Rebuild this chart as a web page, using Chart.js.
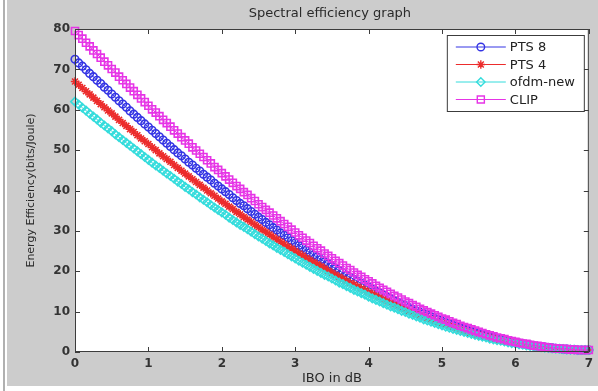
<!DOCTYPE html>
<html>
<head>
<meta charset="utf-8">
<script src="https://cdn.jsdelivr.net/npm/chart.js@4.4.0/dist/chart.umd.min.js"></script>
<style>
  html, body { margin: 0; padding: 0; background: #fff; }
  canvas { display: block; }
</style>
</head>
<body>
<canvas id="myChart" width="598" height="391"></canvas>
<script>
// IBO in dB (x positions of the samples)
const ibo = [
  0, 0.05, 0.1, 0.15, 0.2, 0.25, 0.3, 0.35, 0.4, 0.45,
  0.5, 0.55, 0.6, 0.65, 0.7, 0.75, 0.8, 0.85, 0.9, 0.95,
  1, 1.05, 1.1, 1.15, 1.2, 1.25, 1.3, 1.35, 1.4, 1.45,
  1.5, 1.55, 1.6, 1.65, 1.7, 1.75, 1.8, 1.85, 1.9, 1.95,
  2, 2.05, 2.1, 2.15, 2.2, 2.25, 2.3, 2.35, 2.4, 2.45,
  2.5, 2.55, 2.6, 2.65, 2.7, 2.75, 2.8, 2.85, 2.9, 2.95,
  3, 3.05, 3.1, 3.15, 3.2, 3.25, 3.3, 3.35, 3.4, 3.45,
  3.5, 3.55, 3.6, 3.65, 3.7, 3.75, 3.8, 3.85, 3.9, 3.95,
  4, 4.05, 4.1, 4.15, 4.2, 4.25, 4.3, 4.35, 4.4, 4.45,
  4.5, 4.55, 4.6, 4.65, 4.7, 4.75, 4.8, 4.85, 4.9, 4.95,
  5, 5.05, 5.1, 5.15, 5.2, 5.25, 5.3, 5.35, 5.4, 5.45,
  5.5, 5.55, 5.6, 5.65, 5.7, 5.75, 5.8, 5.85, 5.9, 5.95,
  6, 6.05, 6.1, 6.15, 6.2, 6.25, 6.3, 6.35, 6.4, 6.45,
  6.5, 6.55, 6.6, 6.65, 6.7, 6.75, 6.8, 6.85, 6.9, 6.95,
  7,
];

const pts8 = [
  72.5, 71.6, 70.8, 69.9, 69.0, 68.2, 67.3, 66.5, 65.6, 64.8,
  63.9, 63.1, 62.2, 61.4, 60.6, 59.7, 58.9, 58.1, 57.3, 56.5,
  55.7, 54.9, 54.1, 53.3, 52.5, 51.7, 50.9, 50.1, 49.3, 48.6,
  47.8, 47.0, 46.3, 45.5, 44.8, 44.0, 43.3, 42.6, 41.8, 41.1,
  40.4, 39.7, 39.0, 38.2, 37.5, 36.8, 36.2, 35.5, 34.8, 34.1,
  33.4, 32.8, 32.1, 31.5, 30.8, 30.2, 29.5, 28.9, 28.3, 27.6,
  27.0, 26.4, 25.8, 25.2, 24.6, 24.0, 23.5, 22.9, 22.3, 21.8,
  21.2, 20.7, 20.1, 19.6, 19.0, 18.5, 18.0, 17.5, 17.0, 16.5,
  16.0, 15.5, 15.0, 14.6, 14.1, 13.6, 13.2, 12.7, 12.3, 11.9,
  11.5, 11.0, 10.6, 10.2, 9.8, 9.5, 9.1, 8.7, 8.3, 8.0,
  7.6, 7.3, 7.0, 6.6, 6.3, 6.0, 5.7, 5.4, 5.1, 4.9,
  4.6, 4.3, 4.1, 3.8, 3.6, 3.4, 3.1, 2.9, 2.7, 2.5,
  2.3, 2.2, 2.0, 1.8, 1.7, 1.5, 1.4, 1.3, 1.2, 1.1,
  1.0, 0.9, 0.8, 0.7, 0.7, 0.6, 0.6, 0.5, 0.5, 0.5,
  0.5,
];

const pts4 = [
  67.0, 66.2, 65.4, 64.6, 63.8, 63.0, 62.2, 61.4, 60.6, 59.8,
  59.1, 58.3, 57.5, 56.7, 56.0, 55.2, 54.5, 53.7, 52.9, 52.2,
  51.5, 50.7, 50.0, 49.2, 48.5, 47.8, 47.1, 46.3, 45.6, 44.9,
  44.2, 43.5, 42.8, 42.1, 41.4, 40.7, 40.0, 39.3, 38.7, 38.0,
  37.3, 36.7, 36.0, 35.4, 34.7, 34.1, 33.4, 32.8, 32.2, 31.5,
  30.9, 30.3, 29.7, 29.1, 28.5, 27.9, 27.3, 26.7, 26.1, 25.6,
  25.0, 24.4, 23.9, 23.3, 22.8, 22.2, 21.7, 21.2, 20.7, 20.1,
  19.6, 19.1, 18.6, 18.1, 17.6, 17.1, 16.7, 16.2, 15.7, 15.3,
  14.8, 14.4, 13.9, 13.5, 13.1, 12.6, 12.2, 11.8, 11.4, 11.0,
  10.6, 10.2, 9.9, 9.5, 9.1, 8.8, 8.4, 8.1, 7.7, 7.4,
  7.1, 6.8, 6.5, 6.2, 5.9, 5.6, 5.3, 5.0, 4.8, 4.5,
  4.3, 4.0, 3.8, 3.6, 3.4, 3.1, 2.9, 2.7, 2.6, 2.4,
  2.2, 2.0, 1.9, 1.7, 1.6, 1.5, 1.3, 1.2, 1.1, 1.0,
  0.9, 0.9, 0.8, 0.7, 0.7, 0.6, 0.6, 0.5, 0.5, 0.5,
  0.5,
];

const ofdmNew = [
  62.0, 61.3, 60.5, 59.8, 59.0, 58.3, 57.6, 56.8, 56.1, 55.4,
  54.7, 53.9, 53.2, 52.5, 51.8, 51.1, 50.4, 49.7, 49.0, 48.3,
  47.6, 46.9, 46.2, 45.6, 44.9, 44.2, 43.6, 42.9, 42.2, 41.6,
  40.9, 40.3, 39.6, 39.0, 38.3, 37.7, 37.1, 36.4, 35.8, 35.2,
  34.6, 34.0, 33.3, 32.7, 32.1, 31.5, 31.0, 30.4, 29.8, 29.2,
  28.6, 28.1, 27.5, 26.9, 26.4, 25.8, 25.3, 24.8, 24.2, 23.7,
  23.2, 22.6, 22.1, 21.6, 21.1, 20.6, 20.1, 19.6, 19.1, 18.7,
  18.2, 17.7, 17.2, 16.8, 16.3, 15.9, 15.4, 15.0, 14.6, 14.2,
  13.7, 13.3, 12.9, 12.5, 12.1, 11.7, 11.3, 11.0, 10.6, 10.2,
  9.9, 9.5, 9.2, 8.8, 8.5, 8.1, 7.8, 7.5, 7.2, 6.9,
  6.6, 6.3, 6.0, 5.7, 5.5, 5.2, 5.0, 4.7, 4.5, 4.2,
  4.0, 3.8, 3.6, 3.3, 3.1, 2.9, 2.8, 2.6, 2.4, 2.2,
  2.1, 1.9, 1.8, 1.6, 1.5, 1.4, 1.3, 1.2, 1.1, 1.0,
  0.9, 0.8, 0.8, 0.7, 0.6, 0.6, 0.6, 0.5, 0.5, 0.5,
  0.5,
];

const clip = [
  79.5, 78.5, 77.6, 76.6, 75.7, 74.7, 73.8, 72.9, 71.9, 71.0,
  70.1, 69.2, 68.2, 67.3, 66.4, 65.5, 64.6, 63.7, 62.8, 61.9,
  61.0, 60.1, 59.3, 58.4, 57.5, 56.7, 55.8, 54.9, 54.1, 53.2,
  52.4, 51.6, 50.7, 49.9, 49.1, 48.3, 47.5, 46.7, 45.8, 45.1,
  44.3, 43.5, 42.7, 41.9, 41.1, 40.4, 39.6, 38.9, 38.1, 37.4,
  36.6, 35.9, 35.2, 34.5, 33.8, 33.1, 32.4, 31.7, 31.0, 30.3,
  29.6, 28.9, 28.3, 27.6, 27.0, 26.3, 25.7, 25.1, 24.4, 23.8,
  23.2, 22.6, 22.0, 21.4, 20.8, 20.3, 19.7, 19.1, 18.6, 18.0,
  17.5, 17.0, 16.4, 15.9, 15.4, 14.9, 14.4, 13.9, 13.5, 13.0,
  12.5, 12.1, 11.6, 11.2, 10.7, 10.3, 9.9, 9.5, 9.1, 8.7,
  8.3, 8.0, 7.6, 7.2, 6.9, 6.5, 6.2, 5.9, 5.6, 5.3,
  5.0, 4.7, 4.4, 4.1, 3.9, 3.6, 3.4, 3.2, 2.9, 2.7,
  2.5, 2.3, 2.1, 2.0, 1.8, 1.6, 1.5, 1.4, 1.2, 1.1,
  1.0, 0.9, 0.8, 0.8, 0.7, 0.6, 0.6, 0.5, 0.5, 0.5,
  0.5,
];

const xTickValues = [0, 1, 2, 3, 4, 5, 6, 7];
const yTickValues = [0, 10, 20, 30, 40, 50, 60, 70, 80];

const toPoints = (ys) => ibo.map((x, i) => ({ x: x, y: ys[i] }));

Chart.defaults.font.family = "'DejaVu Sans', sans-serif";

// gray figure background, white axes, title, axes box with inward ticks, legend
const matlabLook = {
  id: "matlabLook",
  beforeDraw(chart) {
    const { ctx, width, height, chartArea: a } = chart;
    ctx.save();
    ctx.fillStyle = "#ffffff";
    ctx.fillRect(0, 0, width, height);
    ctx.fillStyle = "#cccccc";
    ctx.fillRect(7, 0, width - 7, 386);
    ctx.fillStyle = "#b0b0b0";
    ctx.fillRect(3, 0, 2, height);
    ctx.fillStyle = "#ffffff";
    ctx.fillRect(a.left, a.top, a.right - a.left, a.bottom - a.top);
    ctx.font = "13px 'DejaVu Sans'";
    ctx.fillStyle = "#2a2a2a";
    ctx.textAlign = "center";
    ctx.textBaseline = "middle";
    ctx.fillText("Spectral efficiency graph", (a.left + a.right) / 2 - 2, 14);
    ctx.restore();
  },
  afterDatasetsDraw(chart) {
    const { ctx, chartArea: a, scales } = chart;
    const x = scales.x, y = scales.y;
    ctx.save();
    ctx.strokeStyle = "#3c3c3c";
    ctx.lineWidth = 1;
    ctx.strokeRect(a.left + 0.5, a.top + 0.5, a.right - a.left - 1, a.bottom - a.top - 1);
    ctx.beginPath();
    x.ticks.forEach((t) => {
      const px = Math.round(x.getPixelForValue(t.value)) + 0.5;
      ctx.moveTo(px, a.bottom);
      ctx.lineTo(px, a.bottom - 5);
      ctx.moveTo(px, a.top);
      ctx.lineTo(px, a.top + 5);
    });
    y.ticks.forEach((t) => {
      const py = Math.round(y.getPixelForValue(t.value)) + 0.5;
      ctx.moveTo(a.left, py);
      ctx.lineTo(a.left + 5, py);
      ctx.moveTo(a.right, py);
      ctx.lineTo(a.right - 5, py);
    });
    ctx.stroke();
    ctx.restore();
  },
  afterDraw(chart) {
    const { ctx, chartArea: a } = chart;
    const ds = chart.data.datasets;
    const w = 137, h = 76;
    const left = a.right - 5 - w, top = a.top + 6;
    ctx.save();
    ctx.fillStyle = "#ffffff";
    ctx.fillRect(left, top, w, h);
    ctx.strokeStyle = "#3c3c3c";
    ctx.lineWidth = 1;
    ctx.strokeRect(left + 0.5, top + 0.5, w, h);
    ctx.font = "13px 'DejaVu Sans'";
    ctx.textAlign = "left";
    ctx.textBaseline = "middle";
    ds.forEach((d, i) => {
      const cy = top + 12 + i * 17.5;
      ctx.strokeStyle = d.borderColor;
      ctx.lineWidth = 1;
      ctx.beginPath();
      ctx.moveTo(left + 9, cy);
      ctx.lineTo(left + 59, cy);
      ctx.stroke();
      ctx.fillStyle = "rgba(0,0,0,0)";
      ctx.lineWidth = 1.4;
      Chart.helpers.drawPoint(ctx, {
        pointStyle: d.pointStyle,
        radius: d.pointRadius,
        rotation: 0,
        borderWidth: 1.4,
      }, left + 34, cy);
      ctx.fillStyle = "#222";
      ctx.fillText(d.label, left + 63, cy + 1);
    });
    ctx.restore();
  },
};

const series = [
  { label: "PTS 8", data: pts8, color: "#3434e4", style: "circle", r: 3.8, order: 4 },
  { label: "PTS 4", data: pts4, color: "#ec2c2c", style: "star", r: 4.2, order: 3 },
  { label: "ofdm-new", data: ofdmNew, color: "#34dcdc", style: "rectRot", r: 4.2, order: 2 },
  { label: "CLIP", data: clip, color: "#e634e6", style: "rect", r: 5, order: 1 },
];

new Chart(document.getElementById("myChart"), {
  type: "scatter",
  data: {
    datasets: series.map((s) => ({
      label: s.label,
      data: toPoints(s.data),
      showLine: true,
      borderColor: s.color,
      borderWidth: 1,
      backgroundColor: "rgba(0,0,0,0)",
      pointStyle: s.style,
      pointRadius: s.r,
      pointBorderWidth: 1.6,
      pointBorderColor: s.color,
      pointBackgroundColor: "rgba(0,0,0,0)",
      order: s.order,
      clip: false,
    })),
  },
  options: {
    responsive: false,
    animation: false,
    devicePixelRatio: 1,
    layout: { padding: { left: 7, top: 29, right: 8, bottom: 0 } },
    plugins: {
      legend: { display: false },
      tooltip: { enabled: false },
    },
    scales: {
      x: {
        type: "linear",
        min: 0,
        max: 7,
        afterBuildTicks: (s) => { s.ticks = xTickValues.map((v) => ({ value: v })); },
        afterFit: (s) => { s.height = 39; },
        grid: { display: false, drawTicks: false },
        border: { display: false },
        ticks: { color: "#333", padding: 5, font: { size: 12, weight: "bold" } },
        title: {
          display: true,
          text: "IBO in dB",
          color: "#2a2a2a",
          font: { size: 13 },
          padding: { top: 0, bottom: 5 },
        },
      },
      y: {
        type: "linear",
        min: 0,
        max: 80,
        afterBuildTicks: (s) => { s.ticks = yTickValues.map((v) => ({ value: v })); },
        afterFit: (s) => { s.width = 68; },
        grid: { display: false, drawTicks: false },
        border: { display: false },
        ticks: { color: "#333", padding: 5, font: { size: 12, weight: "bold" } },
        title: {
          display: true,
          text: "Energy Efficiency(bits/Joule)",
          color: "#2a2a2a",
          font: { size: 11 },
          padding: { top: 18, bottom: 0 },
        },
      },
    },
  },
  plugins: [matlabLook],
});
</script>
</body>
</html>
